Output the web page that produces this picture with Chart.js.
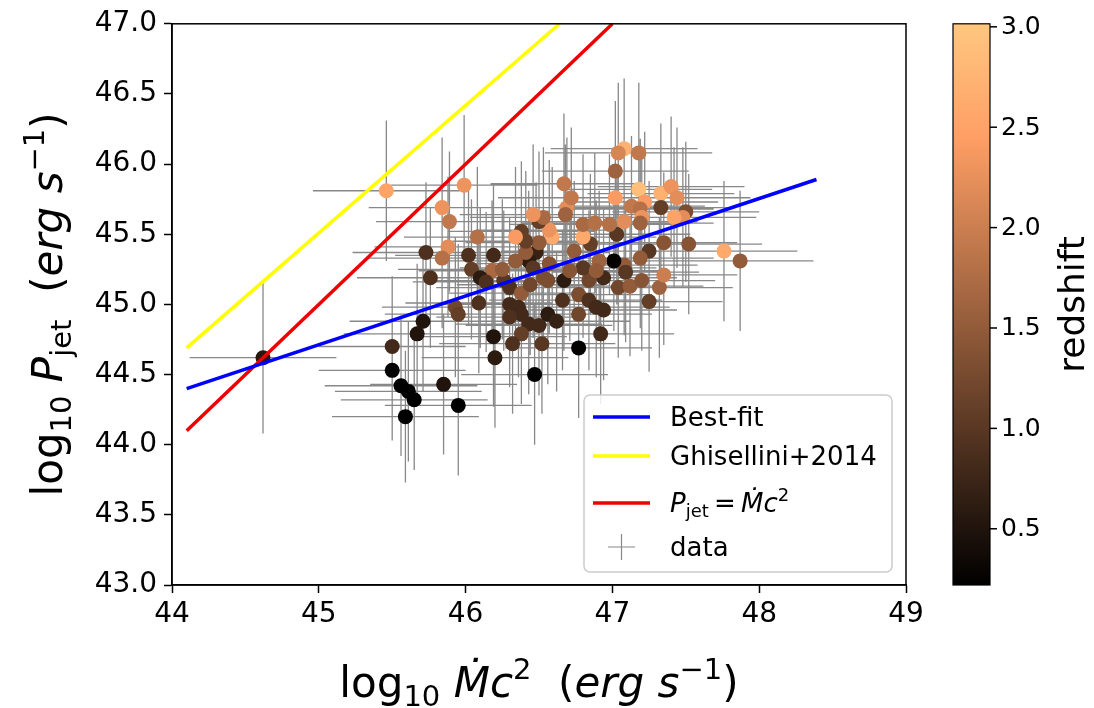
<!DOCTYPE html>
<html><head><meta charset="utf-8">
<script src="https://cdn.jsdelivr.net/npm/chart.js@4.4.0/dist/chart.umd.min.js"></script>
<style>html,body{margin:0;padding:0;background:#fff;}#wrap{width:1094px;height:708px;position:relative;}</style>
</head><body><div id="wrap"><canvas id="c"></canvas></div>
<script>
// ---- data ----
const logMdot = [44.62,45.46,45.99,45.84,45.89,45.88,45.84,45.73,45.76,46.08,46.02,46.19,46.18,46.04,46.10,46.14,45.93,45.95,46.09,45.71,45.67,45.50,45.50,45.56,45.61,
45.65,45.59,45.85,45.95,46.19,46.20,46.26,46.30,46.38,46.44,46.30,46.36,46.38,46.30,46.43,46.50,46.56,46.62,46.38,46.32,46.52,46.47,46.77,46.92,46.66,
46.77,46.77,46.84,46.89,46.94,46.56,46.67,46.84,46.94,47.04,47.12,47.20,47.32,47.25,47.35,47.08,47.09,47.01,46.91,46.80,46.71,46.89,46.74,46.57,46.48,
46.43,46.46,46.34,46.25,46.41,46.53,46.85,47.03,46.80,46.59,46.57,46.50,46.41,46.38,46.34,46.50,46.53,46.46,46.69,46.68,46.72,46.67,46.80,46.88,46.98,
47.08,47.02,47.02,47.08,47.04,47.18,47.18,47.33,47.40,47.44,47.22,47.13,47.19,47.33,47.50,47.48,47.42,47.20,47.19,47.35,47.52,47.76,47.87,47.25,47.19];
const logPjet = [44.62,45.81,45.85,45.69,45.59,45.41,45.33,45.37,45.19,45.48,45.35,45.35,45.24,45.25,45.19,45.16,44.98,44.93,45.01,44.88,44.79,44.70,44.53,44.42,44.38,
44.32,44.20,44.43,44.28,44.77,44.62,45.17,45.12,45.08,45.14,45.00,44.98,44.93,44.91,44.86,44.85,44.93,44.88,44.79,44.72,44.72,44.50,44.69,44.79,45.03,
45.07,44.93,45.03,44.98,44.96,45.17,45.17,45.17,45.19,45.12,45.13,45.17,45.12,45.02,45.21,45.28,45.23,45.31,45.31,45.26,45.24,45.24,45.38,45.29,45.37,
45.31,45.26,45.31,45.25,45.37,45.19,45.43,45.50,45.48,45.48,45.53,45.44,45.45,45.52,45.48,45.59,45.62,45.64,45.69,45.64,45.76,45.86,45.57,45.58,45.57,
45.59,45.76,45.95,46.11,46.08,46.08,45.82,45.79,45.84,45.76,45.73,45.70,45.68,45.69,45.66,45.62,45.62,45.62,45.58,45.44,45.43,45.38,45.31,45.38,45.33];
const redshift = [0.55,2.5,2.3,2.3,1.9,2.2,1.8,0.9,0.9,1.8,0.9,0.8,1.7,1.1,0.6,0.9,1.2,1.1,0.9,0.5,0.5,0.8,0.25,0.2,0.2,
0.2,0.2,0.5,0.2,0.5,0.6,1.0,0.9,1.5,1.2,0.8,0.8,0.8,0.9,0.8,0.8,0.6,0.7,1.1,0.9,1.0,0.2,0.25,0.8,0.9,
1.3,1.2,0.9,0.8,0.8,1.3,0.6,1.2,0.8,1.2,1.5,1.4,1.6,1.1,2.0,1.5,1.0,0.25,1.6,1.0,1.4,1.5,1.5,1.4,0.7,
0.6,1.0,1.5,1.5,1.5,1.3,1.1,1.0,2.6,2.6,2.3,1.5,1.1,1.1,2.4,1.1,1.7,2.3,2.2,1.6,1.9,1.9,1.7,1.8,1.8,
2.2,2.4,1.6,2.7,2.1,1.9,2.9,2.7,2.3,2.2,2.4,1.9,1.8,1.1,1.3,2.2,2.5,2.3,1.6,1.4,1.4,2.6,1.5,1.0,1.5];
const xErr = [0.5,0.5,0.5,0.5,0.5,0.5,0.5,0.5,0.5,0.5,0.5,0.5,0.5,0.5,0.5,0.5,0.5,0.5,0.5,0.5,0.5,0.5,0.5,0.52,0.5,
0.5,0.5,0.5,0.5,0.5,0.5,0.5,0.5,0.5,0.5,0.5,0.5,0.5,0.5,0.5,0.5,0.5,0.5,0.5,0.5,0.5,0.5,0.5,0.5,0.5,
0.5,0.5,0.5,0.5,0.5,0.5,0.5,0.5,0.5,0.5,0.5,0.5,0.5,0.5,0.5,0.5,0.5,0.5,0.5,0.5,0.5,0.5,0.5,0.5,0.5,
0.5,0.5,0.5,0.5,0.5,0.5,0.5,0.5,0.5,0.5,0.5,0.5,0.5,0.5,0.5,0.5,0.5,0.5,0.5,0.5,0.5,0.5,0.5,0.5,0.5,
0.5,0.5,0.5,0.5,0.5,0.5,0.5,0.5,0.5,0.5,0.5,0.5,0.5,0.5,0.5,0.5,0.5,0.5,0.5,0.5,0.5,0.5,0.5,0.5,0.5];
const yErr = [0.54,0.5,0.5,0.5,0.5,0.5,0.5,0.5,0.5,0.5,0.5,0.5,0.5,0.5,0.5,0.5,0.5,0.5,0.5,0.5,0.5,0.5,0.5,0.5,0.5,
0.5,0.47,0.5,0.5,0.5,0.5,0.5,0.5,0.5,0.5,0.5,0.5,0.5,0.5,0.5,0.5,0.5,0.5,0.5,0.5,0.5,0.5,0.5,0.5,0.5,
0.5,0.5,0.5,0.5,0.5,0.5,0.5,0.5,0.5,0.5,0.5,0.5,0.5,0.5,0.5,0.5,0.5,0.5,0.5,0.5,0.5,0.5,0.5,0.5,0.5,
0.5,0.5,0.5,0.5,0.5,0.5,0.5,0.5,0.5,0.5,0.5,0.5,0.5,0.5,0.5,0.5,0.5,0.5,0.5,0.5,0.5,0.5,0.5,0.5,0.5,
0.5,0.5,0.5,0.5,0.5,0.5,0.5,0.5,0.5,0.5,0.5,0.5,0.5,0.5,0.5,0.5,0.5,0.5,0.5,0.5,0.5,0.5,0.5,0.5,0.5];
const fitX = [44.1, 48.39], fitY = [44.40, 45.89];
const ghisX = [44.1, 46.64], ghisY = [44.69, 47.0];
const eqX = [44.1, 47.0], eqY = [44.1, 47.0];
const xTicks = [44,45,46,47,48,49];
const yTicks = [43.0,43.5,44.0,44.5,45.0,45.5,46.0,46.5,47.0];
const cbTicks = [0.5,1.0,1.5,2.0,2.5,3.0];
const cbMin = 0.22, cbMax = 3.015;
const seriesLabels = ['Best-fit','Ghisellini+2014','P_jet = Mdot c^2','data'];

const FONT = '"DejaVu Sans", sans-serif';
function copperRGB(t){t=Math.max(0,Math.min(1,t));return [Math.round(Math.min(1,1.25*t)*255),Math.round(0.7812*t*255),Math.round(0.4975*t*255)];}
function copper(v){const c=copperRGB((v-cbMin)/(cbMax-cbMin));return `rgb(${c[0]},${c[1]},${c[2]})`;}
const pts = (xs,ys)=>xs.map((x,i)=>({x:x,y:ys[i]}));

function drawRich(ctx, segs, x, y, align, rot){
  ctx.save(); ctx.translate(x,y); if(rot) ctx.rotate(rot);
  ctx.textBaseline='alphabetic'; ctx.textAlign='left';
  let w=0; for(const s of segs){ctx.font=`${s.it?'italic ':''}${s.size}px ${FONT}`; s.w=ctx.measureText(s.t).width; w+=s.w;}
  let cx = align==='center' ? -w/2 : 0;
  for(const s of segs){ctx.font=`${s.it?'italic ':''}${s.size}px ${FONT}`; ctx.fillText(s.t,cx,s.dy||0); cx+=s.w;}
  ctx.restore();
}

const errorBars = {id:'errorBars', beforeDatasetsDraw(chart){
  const {ctx, chartArea:a, scales:{x,y}} = chart;
  ctx.save(); ctx.beginPath(); ctx.rect(a.left,a.top,a.right-a.left,a.bottom-a.top); ctx.clip();
  ctx.strokeStyle='#888888'; ctx.lineWidth=1.3; ctx.beginPath();
  for(let i=0;i<logMdot.length;i++){
    const px=x.getPixelForValue(logMdot[i]), py=y.getPixelForValue(logPjet[i]);
    ctx.moveTo(x.getPixelForValue(logMdot[i]-xErr[i]),py); ctx.lineTo(x.getPixelForValue(logMdot[i]+xErr[i]),py);
    ctx.moveTo(px,y.getPixelForValue(logPjet[i]-yErr[i])); ctx.lineTo(px,y.getPixelForValue(logPjet[i]+yErr[i]));
  }
  ctx.stroke(); ctx.restore();
}};

const decor = {id:'decor', afterDraw(chart){
  const {ctx, chartArea:a} = chart;
  // frame
  ctx.save(); ctx.strokeStyle='#000'; ctx.lineWidth=1.5; ctx.strokeRect(a.left,a.top,a.right-a.left,a.bottom-a.top); ctx.restore();
  // colorbar
  const cb = chart.scales.cb;
  const y0 = cb.getPixelForValue(cbMin), y1 = cb.getPixelForValue(cbMax);
  const bx = a.right+47, bw = 37;
  const g = ctx.createLinearGradient(0,y0,0,y1);
  [0,0.8,1].forEach(t=>{const c=copperRGB(t); g.addColorStop(t,`rgb(${c[0]},${c[1]},${c[2]})`);});
  ctx.save(); ctx.fillStyle=g; ctx.fillRect(bx,y1,bw,y0-y1);
  ctx.strokeStyle='#000'; ctx.lineWidth=1.2; ctx.strokeRect(bx,y1,bw,y0-y1);
  ctx.fillStyle='#000'; ctx.font=`25px ${FONT}`; ctx.textAlign='left'; ctx.textBaseline='middle';
  ctx.lineWidth=1.5;
  cbTicks.forEach(v=>{const py=cb.getPixelForValue(v); ctx.beginPath(); ctx.moveTo(bx+bw,py); ctx.lineTo(bx+bw+7,py); ctx.stroke(); ctx.fillText(v.toFixed(1),bx+bw+11,py+1);});
  ctx.translate(bx+bw+85,(y0+y1)/2); ctx.rotate(-Math.PI/2); ctx.font=`36px ${FONT}`; ctx.textAlign='center'; ctx.textBaseline='middle'; ctx.fillText('redshift',0,0);
  ctx.restore();
  // axis titles
  ctx.save(); ctx.fillStyle='#000';
  const S=42, s=29;
  drawRich(ctx,[{t:'log',size:S},{t:'10',size:s,dy:9},{t:' ',size:S},{t:'\u1E40',size:S,it:1},{t:'c',size:S,it:1},{t:'2',size:s,dy:-18},{t:'  (',size:S},{t:'erg',size:S,it:1},{t:' ',size:S},{t:'s',size:S,it:1},{t:'\u22121',size:s,dy:-18},{t:')',size:S}],
    (a.left+a.right)/2, 697, 'center', 0);
  drawRich(ctx,[{t:'log',size:S},{t:'10',size:s,dy:9},{t:' ',size:S},{t:'P',size:S,it:1},{t:'jet',size:s,dy:9},{t:'  (',size:S},{t:'erg',size:S,it:1},{t:' ',size:S},{t:'s',size:S,it:1},{t:'\u22121',size:s,dy:-18},{t:')',size:S}],
    62, (a.top+a.bottom)/2, 'center', -Math.PI/2);
  ctx.restore();
  // legend
  const lx=584, ly=395, lw=308, lh=177;
  ctx.save(); ctx.fillStyle='rgba(255,255,255,0.85)'; ctx.strokeStyle='#cccccc'; ctx.lineWidth=1.5;
  ctx.beginPath(); ctx.roundRect(lx,ly,lw,lh,6); ctx.fill(); ctx.stroke();
  const rows=[417,456,503,547]; const lineDs=chart.data.datasets;
  ctx.lineWidth=3.5;
  for(let k=0;k<3;k++){ctx.strokeStyle=lineDs[k].borderColor; ctx.beginPath(); ctx.moveTo(593,rows[k]); ctx.lineTo(650,rows[k]); ctx.stroke();}
  ctx.strokeStyle='#888888'; ctx.lineWidth=1.2; ctx.beginPath(); ctx.moveTo(608,rows[3]); ctx.lineTo(635,rows[3]); ctx.moveTo(621.5,rows[3]-13); ctx.lineTo(621.5,rows[3]+13); ctx.stroke();
  ctx.fillStyle='#000'; const L=26, l=18;
  drawRich(ctx,[{t:seriesLabels[0],size:L}],670,rows[0]+9,'left',0);
  drawRich(ctx,[{t:seriesLabels[1],size:L}],670,rows[1]+9,'left',0);
  drawRich(ctx,[{t:'P',size:L,it:1},{t:'jet',size:l,dy:5},{t:'\u2009=\u2009',size:L},{t:'\u1E40',size:L,it:1},{t:'c',size:L,it:1},{t:'2',size:l,dy:-11}],670,rows[2]+9,'left',0);
  drawRich(ctx,[{t:seriesLabels[3],size:L}],670,rows[3]+9,'left',0);
  ctx.restore();
}};

const tickFont = {family:FONT, size:28};
new Chart(document.getElementById('c'), {
  type:'scatter',
  data:{datasets:[
    {label:seriesLabels[0], data:pts(fitX,fitY), showLine:true, borderColor:'#0000ff', borderWidth:3.5, pointRadius:0, order:1},
    {label:seriesLabels[1], data:pts(ghisX,ghisY), showLine:true, borderColor:'#ffff00', borderWidth:3.5, pointRadius:0, order:1},
    {label:seriesLabels[2], data:pts(eqX,eqY), showLine:true, borderColor:'#ee0000', borderWidth:3.5, pointRadius:0, order:1},
    {label:seriesLabels[3], data:pts(logMdot,logPjet), pointRadius:7.5, pointBackgroundColor:redshift.map(copper), pointBorderWidth:0, borderWidth:0, order:2}
  ]},
  options:{
    responsive:true, maintainAspectRatio:false, animation:false, events:[],
    layout:{padding:{top:16,left:0,right:0,bottom:0}},
    plugins:{legend:{display:false}, tooltip:{enabled:false}},
    scales:{
      x:{type:'linear', min:44, max:49, afterFit(s){s.height=123;}, afterBuildTicks(s){s.ticks=xTicks.map(v=>({value:v}));},
         ticks:{font:tickFont, color:'#000', padding:5, callback:v=>String(v)},
         grid:{drawOnChartArea:false, drawTicks:true, tickLength:8, tickColor:'#000', tickWidth:1.5}, border:{display:true,color:'#000',width:1.5}},
      y:{type:'linear', min:43, max:47, afterFit(s){s.width=172;}, afterBuildTicks(s){s.ticks=yTicks.map(v=>({value:v}));},
         ticks:{font:tickFont, color:'#000', padding:7, callback:v=>Number(v).toFixed(1)},
         grid:{drawOnChartArea:false, drawTicks:true, tickLength:8, tickColor:'#000', tickWidth:1.5}, border:{display:true,color:'#000',width:1.5}},
      cb:{type:'linear', axis:'y', position:'right', min:cbMin, max:cbMax, afterFit(s){s.width=188;}, ticks:{display:false}, grid:{display:false}, border:{display:false}}
    }
  },
  plugins:[errorBars, decor]
});
</script></body></html>
